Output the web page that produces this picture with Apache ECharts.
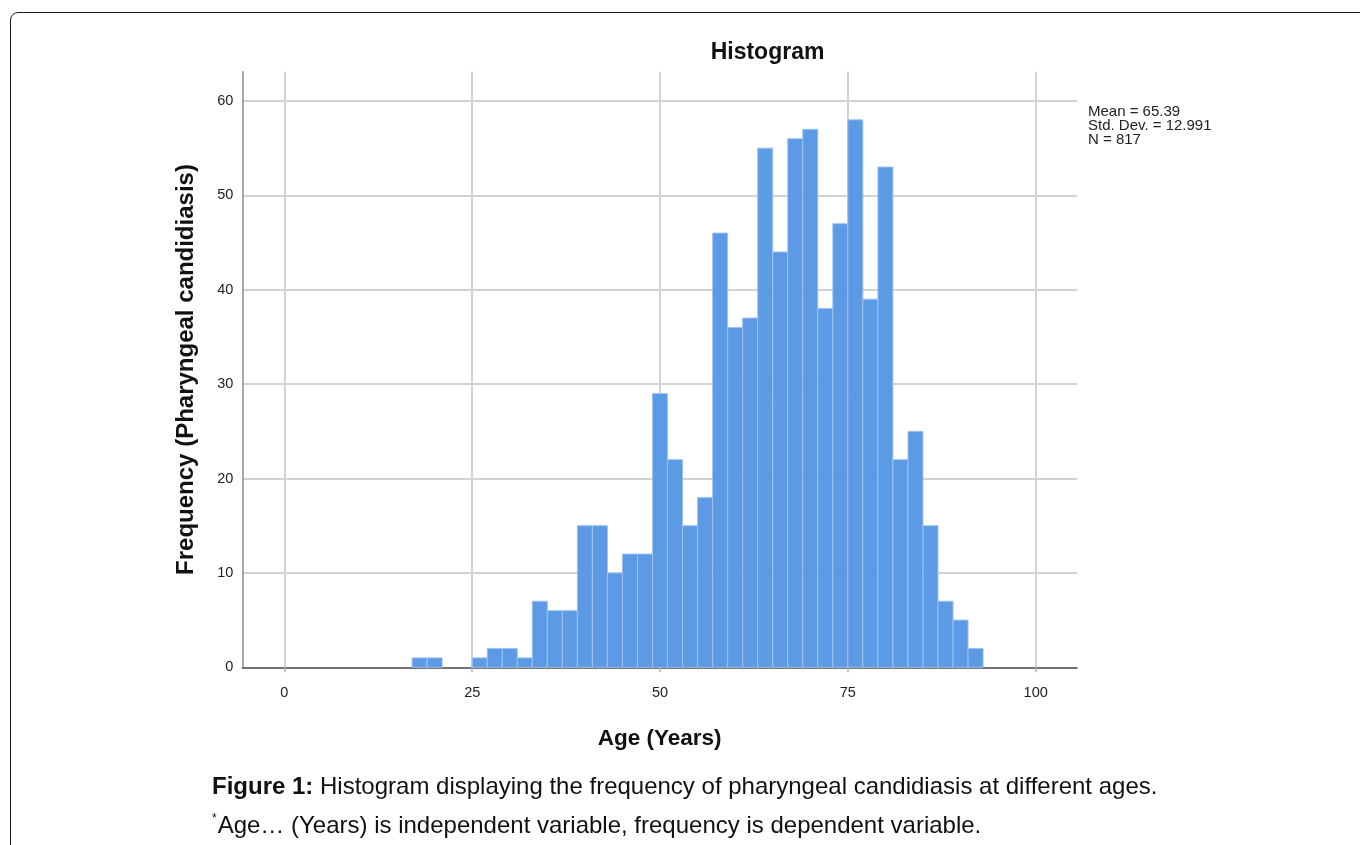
<!DOCTYPE html>
<html>
<head>
<meta charset="utf-8">
<script src="https://cdn.jsdelivr.net/npm/echarts@6/dist/echarts.min.js"></script>
<style>
  html, body { margin: 0; padding: 0; background: #ffffff; overflow: hidden; }
  #frame { position: absolute; left: 10px; top: 12px; width: 1420px; height: 900px;
           border: 1.5px solid #1a1a1a; border-radius: 8px; box-sizing: border-box; }
  #chart { position: absolute; left: 0; top: 0; width: 1360px; height: 845px; }
</style>
</head>
<body>
<div id="frame"></div>
<div id="chart"></div>
<script>
// ---- data ----
const binEdges = [17, 19, 21, 23, 25, 27, 29, 31, 33, 35, 37, 39, 41, 43, 45, 47, 49, 51, 53, 55,
                  57, 59, 61, 63, 65, 67, 69, 71, 73, 75, 77, 79, 81, 83, 85, 87, 89, 91, 93];
const counts   = [1, 1, 0, 0, 1, 2, 2, 1, 7, 6, 6, 15, 15, 10, 12, 12, 29, 22, 15, 18,
                  46, 36, 37, 55, 44, 56, 57, 38, 47, 58, 39, 53, 22, 25, 15, 7, 5, 2];
const xTicks = [0, 25, 50, 75, 100];
const yTicks = [0, 10, 20, 30, 40, 50, 60];
const statLines = ['Mean = 65.39', 'Std. Dev. = 12.991', 'N = 817'];
const chartTitle = 'Histogram';
const xName = 'Age (Years)';
const yName = 'Frequency (Pharyngeal candidiasis)';
const captionBold = 'Figure 1:';
const captionRest = ' Histogram displaying the frequency of pharyngeal candidiasis at different ages.';
const caption2 = 'Age\u2026 (Years) is independent variable, frequency is dependent variable.';

const seriesData = counts.map((c, i) => [binEdges[i], binEdges[i + 1], c]);

const FONT = '"Liberation Sans", Arial, Helvetica, sans-serif';
const chart = echarts.init(document.getElementById('chart'), null, { renderer: 'canvas' });

chart.setOption({
  animation: false,
  textStyle: { fontFamily: FONT },
  grid: { left: 242.3, right: 283, top: 71.7, bottom: 177.7, containLabel: false },
  xAxis: {
    type: 'value', min: -5.6, max: 105.5,
    name: xName, nameLocation: 'middle', nameGap: 60,
    nameTextStyle: { fontFamily: FONT, fontWeight: 'bold', fontSize: 22.5, color: '#111' },
    axisLine: { show: true, onZero: false, lineStyle: { color: '#555555', width: 1.5 } },
    axisTick: { show: true, customValues: xTicks, length: 5, lineStyle: { color: '#b0b0b0', width: 1.5 } },
    axisLabel: { customValues: xTicks, color: '#222', fontSize: 14.5, margin: 18, fontFamily: FONT },
    splitLine: { show: true, lineStyle: { color: '#d2d2d2', width: 2 } }
  },
  yAxis: {
    type: 'value', min: 0, max: 63.1,
    name: yName, nameLocation: 'middle', nameGap: 44,
    nameTextStyle: { fontFamily: FONT, fontWeight: 'bold', fontSize: 24, color: '#111' },
    axisLine: { show: true, onZero: false, lineStyle: { color: '#8c8c8c', width: 1.5 } },
    axisTick: { show: false, customValues: yTicks },
    axisLabel: { customValues: yTicks, color: '#222', fontSize: 14.5, margin: 9, fontFamily: FONT },
    splitLine: { show: true, lineStyle: { color: '#d2d2d2', width: 2 } }
  },
  series: [{
    type: 'custom',
    data: seriesData,
    encode: { x: [0, 1], y: 2 },
    renderItem: function (params, api) {
      const x0 = api.value(0), x1 = api.value(1), v = api.value(2);
      if (!v) return null;
      const pTop = api.coord([x0, v]);
      const pBot = api.coord([x1, 0]);
      return {
        type: 'rect',
        shape: { x: pTop[0], y: pTop[1], width: pBot[0] - pTop[0], height: pBot[1] - pTop[1] },
        style: { fill: '#5596e4', stroke: '#9fc3ef', lineWidth: 1, opacity: 0.96 }
      };
    }
  }],
  graphic: [
    { type: 'text', x: 767.5, y: 53, style: { text: chartTitle, align: 'center', verticalAlign: 'middle',
      font: 'bold 23px ' + FONT, fill: '#111' } },
    { type: 'text', left: 1088, top: 104, style: { text: statLines.join('\n'),
      font: '15px ' + FONT, lineHeight: 14, fill: '#222' } },
    { type: 'text', left: 212, top: 775, style: {
      text: '{b|' + captionBold + '}{n|' + captionRest + '}',
      rich: {
        b: { font: 'bold 24px ' + FONT, fill: '#111' },
        n: { font: '24px ' + FONT, fill: '#111' }
      } } },
    { type: 'text', left: 212, top: 813, style: {
      text: '{s|*}{n|' + caption2 + '}',
      rich: {
        s: { font: '12px ' + FONT, fill: '#111', verticalAlign: 'top', padding: [0, 1, 14, 0] },
        n: { font: '24px ' + FONT, fill: '#111' }
      } } }
  ]
});
</script>
</body>
</html>
